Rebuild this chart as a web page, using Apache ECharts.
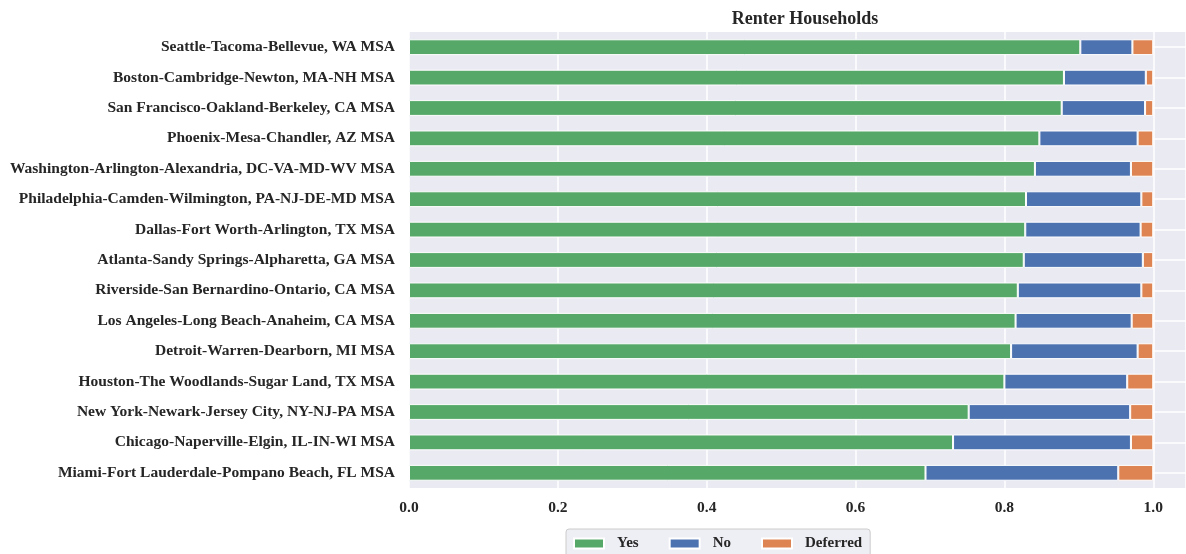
<!DOCTYPE html>
<html>
<head>
<meta charset="utf-8">
<script src="https://cdn.jsdelivr.net/npm/echarts@6/dist/echarts.min.js"></script>
<style>
  html, body { margin: 0; padding: 0; background: #fff; }
  #chart { width: 1186px; height: 554px; }
</style>
</head>
<body>
<div id="chart"></div>
<script>
  // metro areas, top to bottom
  var categories = [
    'Seattle-Tacoma-Bellevue, WA MSA',
    'Boston-Cambridge-Newton, MA-NH MSA',
    'San Francisco-Oakland-Berkeley, CA MSA',
    'Phoenix-Mesa-Chandler, AZ MSA',
    'Washington-Arlington-Alexandria, DC-VA-MD-WV MSA',
    'Philadelphia-Camden-Wilmington, PA-NJ-DE-MD MSA',
    'Dallas-Fort Worth-Arlington, TX MSA',
    'Atlanta-Sandy Springs-Alpharetta, GA MSA',
    'Riverside-San Bernardino-Ontario, CA MSA',
    'Los Angeles-Long Beach-Anaheim, CA MSA',
    'Detroit-Warren-Dearborn, MI MSA',
    'Houston-The Woodlands-Sugar Land, TX MSA',
    'New York-Newark-Jersey City, NY-NJ-PA MSA',
    'Chicago-Naperville-Elgin, IL-IN-WI MSA',
    'Miami-Fort Lauderdale-Pompano Beach, FL MSA'
  ];
  var yesValues = [0.902, 0.880, 0.877, 0.847, 0.841, 0.829, 0.828, 0.826, 0.818, 0.815, 0.809, 0.800, 0.752, 0.731, 0.694];
  var noValues = [0.070, 0.110, 0.112, 0.132, 0.129, 0.155, 0.155, 0.160, 0.166, 0.156, 0.170, 0.165, 0.217, 0.239, 0.259];
  var deferredValues = [0.028, 0.010, 0.011, 0.021, 0.030, 0.016, 0.017, 0.014, 0.016, 0.029, 0.021, 0.035, 0.031, 0.030, 0.047];
  var xTicks = ['0.0', '0.2', '0.4', '0.6', '0.8', '1.0'];

  var serif = '"Liberation Serif", "DejaVu Serif", serif';
  var textColor = '#262626';

  function barSeries(name, data, color) {
    return {
      name: name,
      type: 'bar',
      stack: 'total',
      data: data,
      barWidth: '52%',
      z: 3,
      itemStyle: { color: color, borderColor: '#ffffff', borderWidth: 1 }
    };
  }

  var yes = barSeries('Yes', yesValues, '#55A868');
  // horizontal grid lines sit on the category centres, under the bars
  yes.markLine = {
    silent: true,
    symbol: 'none',
    z: 1,
    label: { show: false },
    lineStyle: { color: '#ffffff', width: 1.5, type: 'solid' },
    data: categories.map(function (c) { return { yAxis: c }; })
  };

  var chart = echarts.init(document.getElementById('chart'));
  chart.setOption({
    backgroundColor: '#ffffff',
    animation: false,
    title: {
      text: 'Renter Households',
      left: 800,
      textAlign: 'center',
      top: 5,
      textStyle: { fontFamily: serif, fontWeight: 'bold', fontSize: 18, color: textColor }
    },
    grid: {
      left: 409, right: 0, top: 32, bottom: 66,
      show: true, backgroundColor: '#EAEAF2', borderWidth: 0
    },
    legend: {
      data: ['Yes', 'No', 'Deferred'],
      left: 566, top: 529,
      padding: [7, 8, 7, 7],
      itemWidth: 30, itemHeight: 10, itemGap: 30,
      icon: 'rect',
      backgroundColor: 'rgba(234,234,242,0.8)',
      borderColor: '#cccccc', borderWidth: 1, borderRadius: 3,
      textStyle: { fontFamily: serif, fontWeight: 'bold', fontSize: 15, color: textColor, padding: [0, 0, 0, 8] }
    },
    xAxis: {
      type: 'value',
      min: 0, max: 1.044, interval: 0.2,
      axisLine: { show: false },
      axisTick: { show: false },
      axisLabel: {
        margin: 12,
        showMaxLabel: false,
        fontFamily: serif, fontWeight: 'bold', fontSize: 15.5, color: textColor,
        formatter: function (v) {
          var i = Math.round(v / 0.2);
          return Math.abs(v - i * 0.2) < 1e-6 ? xTicks[i] : '';
        }
      },
      splitLine: { show: true, lineStyle: { color: '#ffffff', width: 1.5 } }
    },
    yAxis: {
      type: 'category',
      data: categories,
      inverse: true,
      axisLine: { show: false },
      axisTick: { show: false },
      axisLabel: { margin: 14, fontFamily: serif, fontWeight: 'bold', fontSize: 15.5, color: textColor },
      splitLine: { show: false }
    },
    series: [
      yes,
      barSeries('No', noValues, '#4C72B0'),
      barSeries('Deferred', deferredValues, '#DD8452')
    ]
  });
</script>
</body>
</html>
